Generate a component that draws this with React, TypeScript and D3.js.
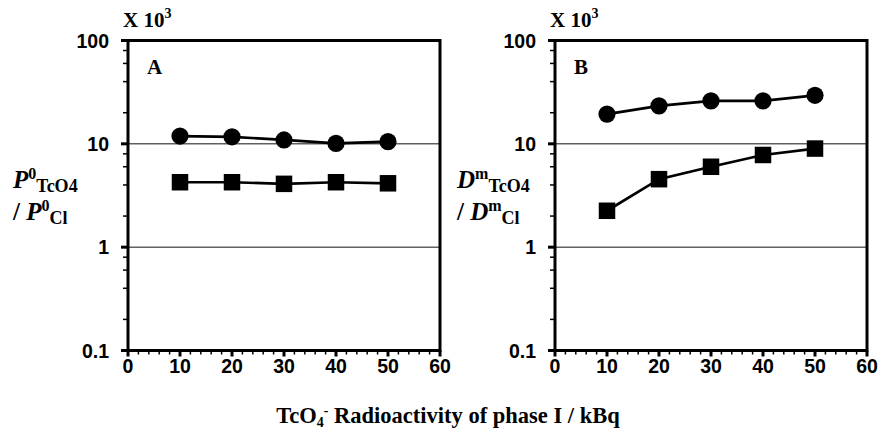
import * as d3 from 'd3';

// x positions (kBq)
const activity = [10, 20, 30, 40, 50];

// panel A: P0 TcO4 / P0 Cl  (x 10^3)
const panelACircle = [11.9, 11.7, 10.9, 10.1, 10.5];
const panelASquare = [4.25, 4.25, 4.1, 4.25, 4.15];

// panel B: Dm TcO4 / Dm Cl  (x 10^3)
const panelBCircle = [19.4, 23.3, 26.0, 26.0, 29.5];
const panelBSquare = [2.25, 4.55, 6.0, 7.8, 9.0];

const xTicks = [0, 10, 20, 30, 40, 50, 60];
const yTicks = [0.1, 1, 10, 100];
const yTickLabels = ['0.1', '1', '10', '100'];
const gridValues = [1, 10];

const SANS = '"Liberation Sans", Arial, sans-serif';
const SERIF = '"Liberation Serif", "Times New Roman", serif';

const W = 883;
const H = 435;
const top = 40.5;
const bottom = 350.5;
const plotW = 312;

type PanelProps = {
  left: number;
  labelX: number;
  letter: string;
  circles: number[];
  squares: number[];
  sym: string;
  supChar: string;
};

const Panel = ({ left, labelX, letter, circles, squares, sym, supChar }: PanelProps) => {
  const x = d3.scaleLinear().domain([0, 60]).range([left, left + plotW]);
  const y = d3.scaleLog().domain([0.1, 100]).range([bottom, top]);
  const line = d3
    .line<[number, number]>()
    .x((d) => x(d[0]))
    .y((d) => y(d[1]));

  const circlePts = activity.map((a, i) => [a, circles[i]] as [number, number]);
  const squarePts = activity.map((a, i) => [a, squares[i]] as [number, number]);

  const minorX = d3.range(0, 61, 2).filter((v) => v % 10 !== 0);
  const minorY: number[] = [];
  [0.1, 1, 10].forEach((dec) => [2, 4, 6, 8].forEach((m) => minorY.push(dec * m)));

  const sq = 16.5;

  return (
    <g>
      {/* grid lines */}
      {gridValues.map((g) => (
        <line key={g} x1={x(0)} x2={x(60)} y1={y(g)} y2={y(g)} stroke="#111" strokeWidth={1} />
      ))}

      {/* frame */}
      <rect x={x(0)} y={top} width={plotW} height={bottom - top} fill="none" stroke="#000" strokeWidth={3} />

      {/* x ticks */}
      {xTicks.map((t) => (
        <g key={t}>
          <line x1={x(t)} x2={x(t)} y1={bottom} y2={bottom + 6} stroke="#000" strokeWidth={3} />
          <text x={x(t)} y={373} textAnchor="middle" fontFamily={SANS} fontWeight="bold" fontSize={19.5}>
            {t}
          </text>
        </g>
      ))}
      {minorX.map((t) => (
        <line key={t} x1={x(t)} x2={x(t)} y1={bottom} y2={bottom + 4} stroke="#000" strokeWidth={1.5} />
      ))}

      {/* y ticks */}
      {yTicks.map((t, i) => (
        <g key={t}>
          <line x1={x(0) - 7} x2={x(0)} y1={y(t)} y2={y(t)} stroke="#000" strokeWidth={3} />
          <text x={x(0) - 19} y={y(t) + 7} textAnchor="end" fontFamily={SANS} fontWeight="bold" fontSize={19.5}>
            {yTickLabels[i]}
          </text>
        </g>
      ))}
      {minorY.map((t) => (
        <line key={t} x1={x(0) - 5} x2={x(0)} y1={y(t)} y2={y(t)} stroke="#000" strokeWidth={1.5} />
      ))}

      {/* series */}
      <path d={line(circlePts) || ''} fill="none" stroke="#000" strokeWidth={2.7} />
      <path d={line(squarePts) || ''} fill="none" stroke="#000" strokeWidth={2.7} />
      {circlePts.map((p, i) => (
        <circle key={i} cx={x(p[0])} cy={y(p[1])} r={8.6} fill="#000" />
      ))}
      {squarePts.map((p, i) => (
        <rect key={i} x={x(p[0]) - sq / 2} y={y(p[1]) - sq / 2} width={sq} height={sq} fill="#000" />
      ))}

      {/* panel letter */}
      <text x={x(0) + 19} y={74} fontFamily={SERIF} fontWeight="bold" fontSize={21}>
        {letter}
      </text>

      {/* multiplier */}
      <text x={x(0) - 5} y={27} fontFamily={SERIF} fontWeight="bold" fontSize={21}>
        X 10
        <tspan fontSize={14} dy={-9}>3</tspan>
      </text>

      {/* y label */}
      <text x={labelX} y={188} fontFamily={SERIF} fontWeight="bold" fontSize={25}>
        <tspan fontStyle="italic">{sym}</tspan>
        <tspan fontSize={16} dy={-9}>{supChar}</tspan>
        <tspan fontSize={18} dy={13}>TcO4</tspan>
      </text>
      <text x={labelX} y={220} fontFamily={SERIF} fontWeight="bold" fontSize={25}>
        {'/ '}
        <tspan fontStyle="italic">{sym}</tspan>
        <tspan fontSize={16} dy={-9}>{supChar}</tspan>
        <tspan fontSize={18} dy={13}>Cl</tspan>
      </text>
    </g>
  );
};

const App = () => {
  return (
    <svg
      width={W}
      height={H}
      style={{ position: 'absolute', left: 0, top: 0, background: '#fff' }}
    >
      <Panel left={128} labelX={13} letter="A" circles={panelACircle} squares={panelASquare} sym="P" supChar="0" />
      <Panel left={555} labelX={457} letter="B" circles={panelBCircle} squares={panelBSquare} sym="D" supChar="m" />
      <text x={448} y={423} textAnchor="middle" fontFamily={SERIF} fontWeight="bold" fontSize={22.5}>
        TcO
        <tspan fontSize={14} dy={4}>4</tspan>
        <tspan fontSize={14} dy={-12}>-</tspan>
        <tspan dy={8}> Radioactivity of phase I / kBq</tspan>
      </text>
    </svg>
  );
};

export default App;
